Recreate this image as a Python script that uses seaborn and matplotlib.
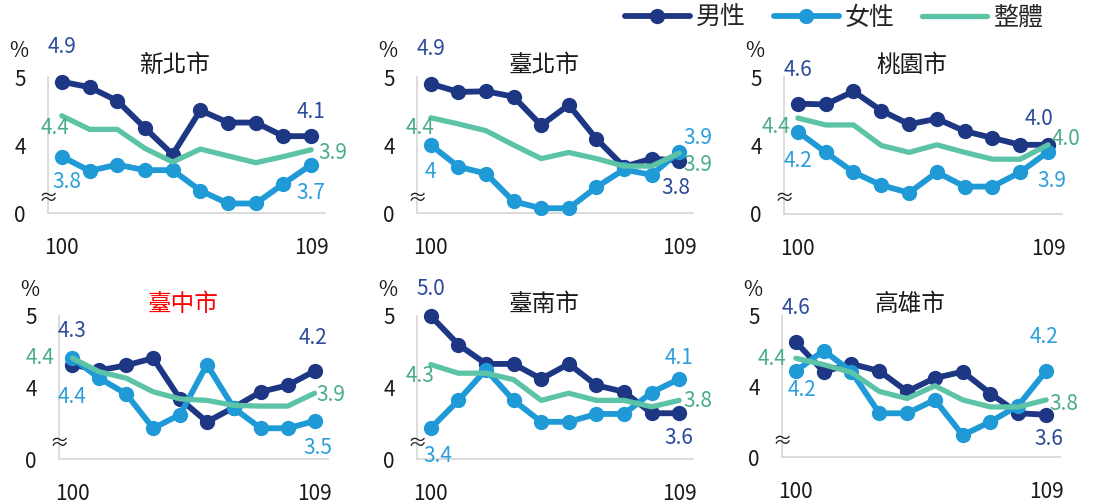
import pandas as pd
import matplotlib.pyplot as plt
import matplotlib.transforms as mtransforms
from matplotlib.lines import Line2D
import seaborn as sns

sns.set_theme(style='white')
plt.rcParams['font.family'] = ['Noto Sans CJK TC', 'DejaVu Sans']

years = list(range(100, 110))
cities = ['新北市', '臺北市', '桃園市', '臺中市', '臺南市', '高雄市']
series_names = ['男性', '女性', '整體']

male = {
    '新北市': [4.93, 4.85, 4.65, 4.25, 3.86, 4.51, 4.33, 4.33, 4.13, 4.13],
    '臺北市': [4.90, 4.78, 4.79, 4.71, 4.29, 4.59, 4.09, 3.68, 3.80, 3.77],
    '桃園市': [4.61, 4.60, 4.79, 4.51, 4.31, 4.39, 4.21, 4.11, 4.01, 4.01],
    '臺中市': [4.32, 4.24, 4.31, 4.41, 3.84, 3.52, 3.72, 3.94, 4.03, 4.23],
    '臺南市': [5.00, 4.60, 4.33, 4.33, 4.12, 4.33, 4.03, 3.94, 3.64, 3.64],
    '高雄市': [4.63, 4.21, 4.32, 4.22, 3.93, 4.12, 4.21, 3.90, 3.62, 3.60],
}
female = {
    '新北市': [3.83, 3.62, 3.71, 3.63, 3.63, 3.33, 3.14, 3.14, 3.43, 3.71],
    '臺北市': [4.00, 3.68, 3.58, 3.17, 3.07, 3.07, 3.38, 3.64, 3.56, 3.90],
    '桃園市': [4.20, 3.90, 3.61, 3.42, 3.31, 3.61, 3.40, 3.40, 3.61, 3.91],
    '臺中市': [4.41, 4.13, 3.91, 3.43, 3.62, 4.32, 3.71, 3.43, 3.43, 3.53],
    '臺南市': [3.43, 3.82, 4.25, 3.82, 3.52, 3.52, 3.63, 3.63, 3.93, 4.12],
    '高雄市': [4.22, 4.51, 4.21, 3.62, 3.62, 3.81, 3.31, 3.50, 3.73, 4.22],
}
total = {
    '新北市': [4.43, 4.23, 4.23, 3.95, 3.75, 3.94, 3.84, 3.74, 3.83, 3.93],
    '臺北市': [4.40, 4.31, 4.21, 4.00, 3.80, 3.89, 3.80, 3.69, 3.69, 3.88],
    '桃園市': [4.40, 4.30, 4.30, 4.00, 3.90, 4.01, 3.90, 3.80, 3.80, 4.01],
    '臺中市': [4.41, 4.22, 4.13, 3.94, 3.84, 3.82, 3.75, 3.74, 3.74, 3.92],
    '臺南市': [4.32, 4.20, 4.20, 4.11, 3.82, 3.92, 3.82, 3.82, 3.73, 3.82],
    '高雄市': [4.40, 4.31, 4.20, 3.93, 3.83, 4.01, 3.81, 3.71, 3.71, 3.81],
}
# one label in the source is shown without decimals
label_override = {('臺北市', '女性', 0): '4'}

line_colors = {'男性': '#1d3784', '女性': '#1f9ad6', '整體': '#5cc3a7'}
label_colors = {'男性': '#2b4a9c', '女性': '#2a9fdb', '整體': '#4aad88'}

# label offsets in pixels (first point, last point)
offsets = {
    '新北市': {'男性': [(0, 35), (0, 24)], '女性': [(5, -25), (0, -28)], '整體': [(-7, -12), (22, -3)]},
    '臺北市': {'男性': [(0, 35), (-3, -27)], '女性': [(0, -27), (19, 14)], '整體': [(-11, -10), (19, -12)]},
    '桃園市': {'男性': [(0, 34), (-9, 26)], '女性': [(0, -29), (4, -29)], '整體': [(-22, -9), (18, 6)]},
    '臺中市': {'男性': [(0, 34), (-2, 33)], '女性': [(0, -39), (3, -27)], '整體': [(-32, 0), (16, -2)]},
    '臺南市': {'男性': [(0, 27), (0, -25)], '女性': [(7, -28), (0, 21)], '整體': [(-11, -11), (19, -1)]},
    '高雄市': {'男性': [(0, 34), (3, -24)], '女性': [(6, -19), (-2, 34)], '整體': [(-24, -1), (18, -4)]},
}

W, H = 1094, 503
# axes boxes in pixels: left, right, top, bottom
boxes = [(48, 325, 77, 213), (417, 693, 77, 213), (784, 1062, 77, 214),
         (59, 328, 316, 459), (417, 693, 316, 459), (782, 1060, 316, 457)]

fig = plt.figure(figsize=(W / 100, H / 100), dpi=100)

for i, city in enumerate(cities):
    l, r, t, b = boxes[i]
    ax = fig.add_axes([l / W, 1 - b / H, (r - l) / W, (b - t) / H])
    df = pd.DataFrame({'year': years, '男性': male[city], '女性': female[city], '整體': total[city]})

    for name in series_names:
        if name == '整體':
            sns.lineplot(data=df, x='year', y=name, ax=ax, color=line_colors[name],
                         linewidth=3.8, clip_on=False, zorder=4)
        else:
            sns.lineplot(data=df, x='year', y=name, ax=ax, color=line_colors[name],
                         linewidth=4.2, marker='o', markersize=11, markeredgewidth=0,
                         clip_on=False, zorder=3)
        vals = df[name].tolist()
        for k, idx in enumerate([0, len(vals) - 1]):
            txt = label_override.get((city, name, idx), f'{vals[idx]:.1f}')
            ax.annotate(txt, (years[idx], vals[idx]), xytext=offsets[city][name][k],
                        textcoords='offset pixels', ha='center', va='center',
                        fontsize=15, color=label_colors[name], zorder=6)

    ax.set_xlim(99.5, 109.5)
    ax.set_ylim(3.0, 5.0)
    ax.set_xticks([100, 109])
    ax.set_xticklabels(['100', '109'])
    ax.set_yticks([3.0, 4, 5])
    ax.set_yticklabels(['0', '4', '5'])
    ax.tick_params(axis='both', length=0, labelsize=15, colors='#1a1a1a')
    ax.tick_params(axis='x', pad=17)
    ax.tick_params(axis='y', pad=16)
    ax.set_xlabel('')
    ax.set_ylabel('')
    for s in ['top', 'right']:
        ax.spines[s].set_visible(False)
    for s in ['left', 'bottom']:
        ax.spines[s].set_color('#d9d9d9')
        ax.spines[s].set_linewidth(1.3)

    trans = mtransforms.blended_transform_factory(ax.transAxes, ax.transData)
    ax.text(0, 3.22, '≈', transform=trans, ha='center', va='center', fontsize=14, color='#1a1a1a')
    ax.annotate('%', (0, 5.0), xycoords=trans, xytext=(-29, 26), textcoords='offset pixels',
                ha='center', va='center', fontsize=15, color='#1a1a1a')
    ax.text(0.46, 1.0, city, transform=ax.transAxes, ha='center', va='bottom',
            fontsize=17, color='red' if city == '臺中市' else '#1a1a1a')

handles = [Line2D([], [], color=line_colors['男性'], linewidth=4.2, marker='o', markersize=11, markeredgewidth=0),
           Line2D([], [], color=line_colors['女性'], linewidth=4.2, marker='o', markersize=11, markeredgewidth=0),
           Line2D([], [], color=line_colors['整體'], linewidth=3.8)]
fig.legend(handles, series_names, loc='upper right', bbox_to_anchor=(1066 / W, 1.035), ncol=3,
           frameon=False, fontsize=18, handlelength=2.6, handletextpad=0.25, columnspacing=1.1)

fig.savefig('out.png', dpi=100)
